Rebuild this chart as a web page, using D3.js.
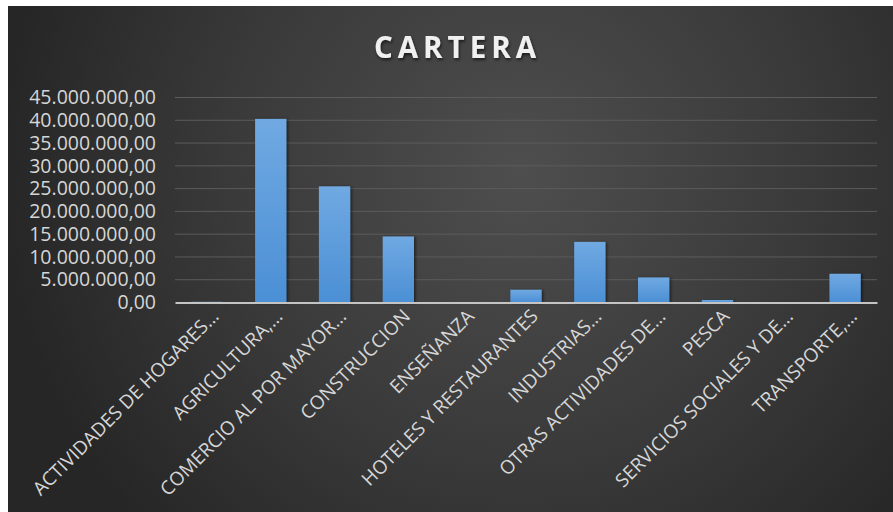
<!DOCTYPE html>
<html>
<head>
<meta charset="utf-8">
<script src="https://cdn.jsdelivr.net/npm/d3@7"></script>
<style>
  html, body { margin: 0; padding: 0; background: #ffffff; }
  svg { display: block; }
</style>
</head>
<body>
<svg id="chart" width="893" height="512"></svg>
<script>
// Loan portfolio (cartera) by economic sector
const categories = [
  "ACTIVIDADES DE HOGARES…",
  "AGRICULTURA,…",
  "COMERCIO AL POR MAYOR…",
  "CONSTRUCCION",
  "ENSEÑANZA",
  "HOTELES Y RESTAURANTES",
  "INDUSTRIAS…",
  "OTRAS ACTIVIDADES DE…",
  "PESCA",
  "SERVICIOS SOCIALES Y DE…",
  "TRANSPORTE,…"
];
const values = [
  150000, 40300000, 25500000, 14500000, 50000, 2800000,
  13300000, 5500000, 550000, 100000, 6300000
];
const yTicks = [0, 5000000, 10000000, 15000000, 20000000, 25000000,
                30000000, 35000000, 40000000, 45000000];
const title = "CARTERA";

const svg = d3.select("#chart");
const W = 893, H = 512;
const frame = { x: 8, y: 6 };
const plot = { left: 175, right: 877, top: 97.5, bottom: 302.5 };

const defs = svg.append("defs");

// dark radial backdrop
const bg = defs.append("radialGradient").attr("id", "bgGrad")
  .attr("gradientUnits", "userSpaceOnUse")
  .attr("cx", 520).attr("cy", 170).attr("r", 520);
bg.append("stop").attr("offset", "0%").attr("stop-color", "#4e4e4e");
bg.append("stop").attr("offset", "55%").attr("stop-color", "#3a3a3a");
bg.append("stop").attr("offset", "100%").attr("stop-color", "#262626");

// bar fill
const barGrad = defs.append("linearGradient").attr("id", "barGrad")
  .attr("x1", 0).attr("y1", 0).attr("x2", 0).attr("y2", 1);
barGrad.append("stop").attr("offset", "0%").attr("stop-color", "#70a9e2");
barGrad.append("stop").attr("offset", "100%").attr("stop-color", "#4b8fd5");

const shadow = defs.append("filter").attr("id", "barShadow")
  .attr("x", "-30%").attr("y", "-10%").attr("width", "160%").attr("height", "130%");
shadow.append("feDropShadow").attr("dx", 1.5).attr("dy", 0.5)
  .attr("stdDeviation", 1.5).attr("flood-color", "#000").attr("flood-opacity", 0.55);

const tShadow = defs.append("filter").attr("id", "titleShadow")
  .attr("x", "-10%").attr("y", "-30%").attr("width", "120%").attr("height", "160%");
tShadow.append("feDropShadow").attr("dx", 1).attr("dy", 2)
  .attr("stdDeviation", 1.5).attr("flood-color", "#000").attr("flood-opacity", 0.6);

svg.append("rect")
  .attr("x", frame.x).attr("y", frame.y)
  .attr("width", W - frame.x).attr("height", H - frame.y)
  .attr("fill", "url(#bgGrad)");

// scales
const x = d3.scaleBand()
  .domain(categories)
  .range([plot.left, plot.right])
  .paddingInner(0.51)
  .paddingOuter(0.255);

const y = d3.scaleLinear()
  .domain([0, 45000000])
  .range([plot.bottom, plot.top]);

const locale = d3.formatLocale({ decimal: ",", thousands: ".", grouping: [3], currency: ["", ""] });
const fmt = locale.format(",.2f");

// gridlines
svg.append("g")
  .selectAll("line")
  .data(yTicks.filter(d => d > 0))
  .join("line")
  .attr("x1", plot.left).attr("x2", plot.right)
  .attr("y1", d => y(d)).attr("y2", d => y(d))
  .attr("stroke", "#5c5c5c").attr("stroke-width", 1);

// y axis labels
const yAxis = svg.append("g")
  .attr("transform", `translate(${plot.left},0)`)
  .call(d3.axisLeft(y).tickValues(yTicks).tickFormat(fmt).tickSize(0).tickPadding(19));
yAxis.select(".domain").remove();
yAxis.selectAll("text")
  .attr("fill", "#d6d6d6")
  .style("font-family", "'Open Sans', sans-serif")
  .style("font-size", "19.5px");

// bars
svg.append("g")
  .selectAll("rect")
  .data(categories.map((c, i) => ({ c, v: values[i] })))
  .join("rect")
  .attr("x", d => x(d.c))
  .attr("width", x.bandwidth())
  .attr("y", d => y(d.v))
  .attr("height", d => y(0) - y(d.v))
  .attr("fill", "url(#barGrad)")
  .attr("filter", "url(#barShadow)");

// x axis line and rotated category labels
const xAxis = svg.append("g")
  .attr("transform", `translate(0,${plot.bottom})`)
  .call(d3.axisBottom(x).tickSize(0).tickPadding(0));
xAxis.select(".domain")
  .attr("stroke", "#c4c4c4").attr("stroke-width", 2);
xAxis.selectAll(".tick text")
  .attr("fill", "#d6d6d6")
  .attr("text-anchor", "end")
  .attr("dy", 0)
  .attr("transform", "translate(13,15) rotate(-45)")
  .style("font-family", "'Open Sans', sans-serif")
  .style("font-size", "19px");

// title
svg.append("text")
  .attr("x", 457.5).attr("y", 58)
  .attr("text-anchor", "middle")
  .attr("fill", "#f0f0f0")
  .attr("filter", "url(#titleShadow)")
  .style("font-family", "'Open Sans', sans-serif")
  .style("font-weight", "700")
  .style("font-size", "29.5px")
  .style("letter-spacing", "5px")
  .text(title);
</script>
</body>
</html>
